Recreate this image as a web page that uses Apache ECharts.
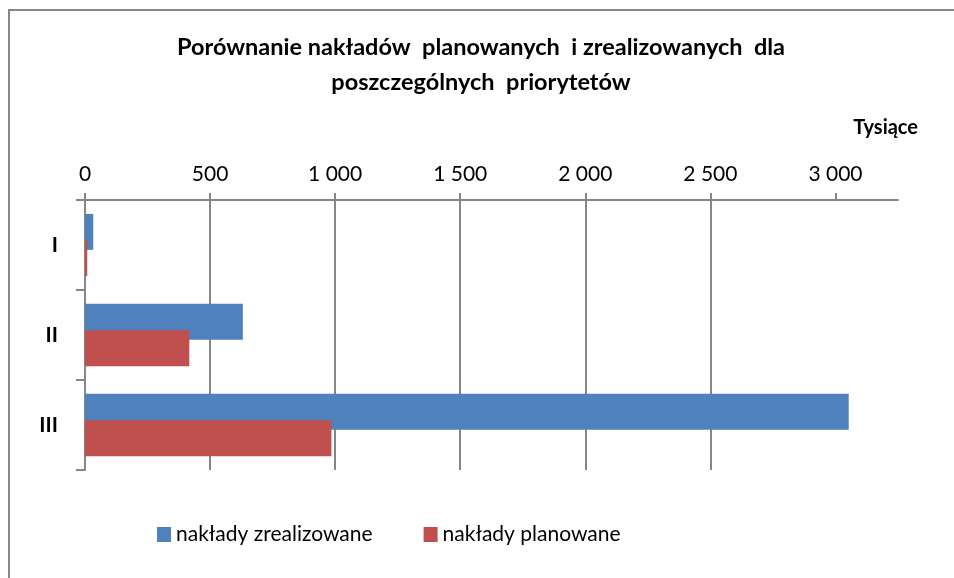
<!DOCTYPE html>
<html>
<head>
<meta charset="utf-8">
<title>Porównanie nakładów</title>
<script src="https://cdn.jsdelivr.net/npm/echarts@6/dist/echarts.min.js"></script>
<style>
  html, body { margin: 0; padding: 0; background: #fff; }
  #chart { width: 954px; height: 578px; }
</style>
</head>
<body>
<div id="chart"></div>
<script>
// priorytety
var categories = ['I', 'II', 'III']
// wartości w tysiącach
var zrealizowane = [33, 631, 3053]
var planowane = [9, 417, 985]
var tickValues = [0, 500, 1000, 1500, 2000, 2500, 3000]

var FONT = 'Lato, "Open Sans", sans-serif'
var GRAY = '#868686'

// "1 000" - spacja jako separator tysięcy
function fmt(v) {
  return String(v).replace(/\B(?=(\d{3})+(?!\d))/g, ' ')
}

var chart = echarts.init(document.getElementById('chart'), null, { renderer: 'canvas' })

var option = {
  backgroundColor: '#fff',
  animation: false,
  graphic: [
    {
      // ramka wykresu (widoczna tylko z lewej i u góry)
      type: 'polyline',
      shape: { points: [[9, 578], [9, 10], [954, 10]] },
      style: { fill: 'none', stroke: GRAY, lineWidth: 2 },
      silent: true
    },
    {
      type: 'text',
      x: 481,
      y: 30,
      style: {
        text: 'Porównanie nakładów  planowanych  i zrealizowanych  dla\nposzczególnych  priorytetów',
        align: 'center',
        verticalAlign: 'top',
        fontFamily: FONT,
        fontWeight: 'bold',
        fontSize: 23.5,
        lineHeight: 35,
        fill: '#000'
      }
    },
    {
      type: 'text',
      x: 918,
      y: 128,
      style: {
        text: 'Tysiące',
        align: 'right',
        verticalAlign: 'middle',
        fontFamily: FONT,
        fontWeight: 'bold',
        fontSize: 20,
        fill: '#000'
      }
    }
  ],
  legend: {
    top: 519,
    left: 152,
    itemWidth: 14,
    itemHeight: 15,
    itemGap: 51,
    icon: 'rect',
    textStyle: { fontFamily: FONT, fontSize: 21, color: '#000' },
    data: ['nakłady zrealizowane', 'nakłady planowane']
  },
  grid: {
    left: 85,
    right: 56,
    top: 200,
    bottom: 108,
    containLabel: false
  },
  xAxis: {
    type: 'value',
    position: 'top',
    min: 0,
    max: 3250,
    interval: 500,
    axisLine: { show: true, lineStyle: { color: GRAY, width: 2 } },
    axisTick: {
      show: true,
      length: 7,
      customValues: tickValues,
      lineStyle: { color: GRAY, width: 2 }
    },
    axisLabel: {
      customValues: tickValues,
      formatter: fmt,
      margin: 15,
      fontFamily: FONT,
      fontSize: 21,
      color: '#000'
    },
    splitLine: {
      show: true,
      showMinLine: false,
      showMaxLine: false,
      lineStyle: { color: GRAY, width: 2 }
    }
  },
  yAxis: {
    type: 'category',
    inverse: true,
    data: categories,
    axisLine: { show: true, lineStyle: { color: GRAY, width: 2 } },
    axisTick: { show: true, length: 9, lineStyle: { color: GRAY, width: 2 } },
    axisLabel: {
      margin: 27,
      fontFamily: FONT,
      fontWeight: 'bold',
      fontSize: 21,
      color: '#000'
    },
    splitLine: { show: false }
  },
  series: [
    {
      name: 'nakłady zrealizowane',
      type: 'bar',
      data: zrealizowane,
      barWidth: 36,
      barGap: '-27%',
      itemStyle: { color: '#4F81BD' }
    },
    {
      name: 'nakłady planowane',
      type: 'bar',
      data: planowane,
      barWidth: 36,
      barGap: '-27%',
      itemStyle: { color: '#C0504D' }
    }
  ]
}

chart.setOption(option)
</script>
</body>
</html>
